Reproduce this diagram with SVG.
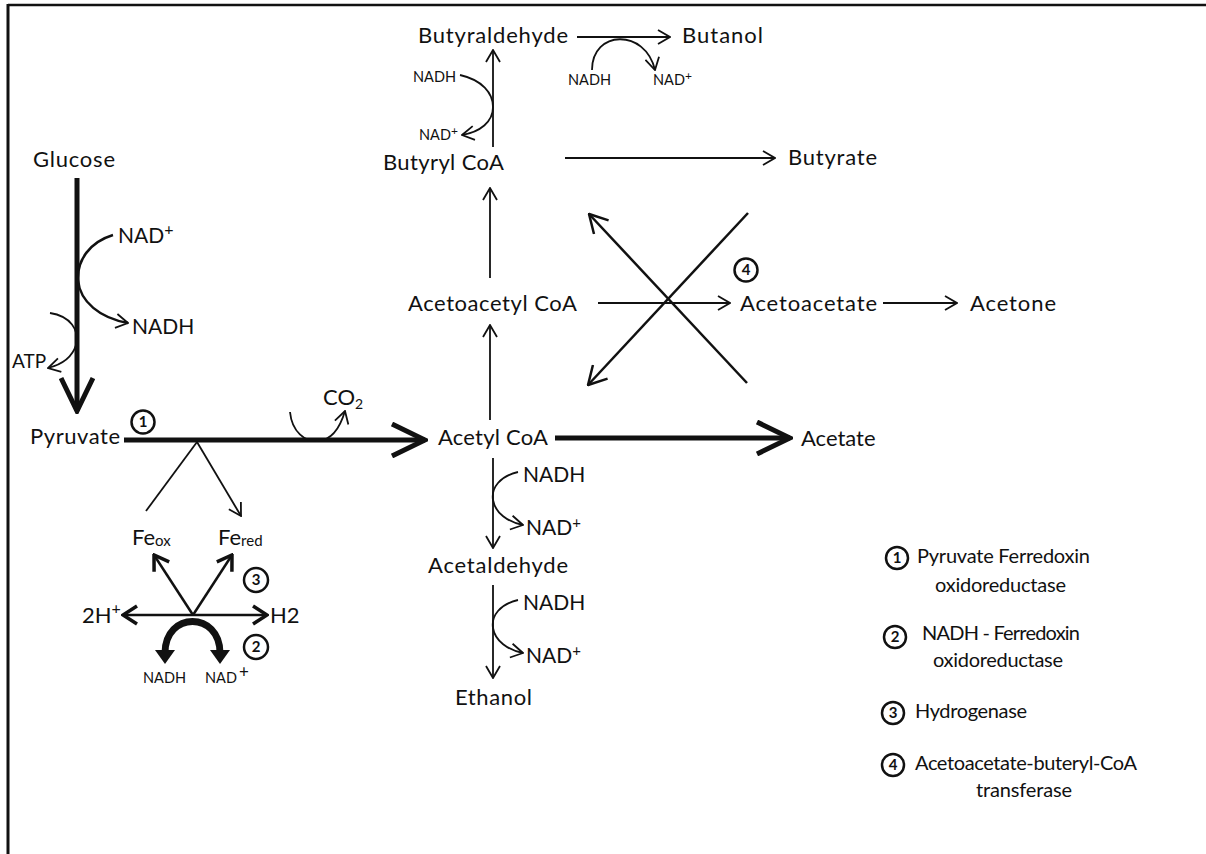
<svg xmlns="http://www.w3.org/2000/svg" width="1206" height="854" viewBox="0 0 1206 854">
<defs>
<style>
text{font-family:Lato,"Liberation Sans",sans-serif;fill:#111}
.lbl{font-size:22px}
.sub{font-size:21px}
.sm{font-size:14.5px}
.lg{font-size:20px}
.num{font-size:15px;font-weight:bold;text-anchor:middle}
.thin{fill:none;stroke:#111;stroke-width:1.8}
.mid{fill:none;stroke:#111;stroke-width:2.5}
.thick{fill:none;stroke:#111;stroke-width:5}
.circ{fill:#fff;stroke:#111;stroke-width:2.5}
</style>
<marker id="open" viewBox="0 0 14 16" refX="13" refY="8" markerWidth="14" markerHeight="16" markerUnits="userSpaceOnUse" orient="auto">
<path d="M1,1 L13,8 L1,15" fill="none" stroke="#111" stroke-width="1.8"/>
</marker>
<marker id="openL" viewBox="0 0 20 22" refX="19" refY="11" markerWidth="20" markerHeight="22" markerUnits="userSpaceOnUse" orient="auto">
<path d="M1,1 L19,11 L1,21" fill="none" stroke="#111" stroke-width="2.5"/>
</marker>
<marker id="bold" viewBox="0 0 38 36" refX="35" refY="18" markerWidth="38" markerHeight="36" markerUnits="userSpaceOnUse" orient="auto">
<path d="M2,2 L35,18 L2,34" fill="none" stroke="#111" stroke-width="5"/>
</marker>
<marker id="med" viewBox="0 0 18 22" refX="16" refY="11" markerWidth="18" markerHeight="22" markerUnits="userSpaceOnUse" orient="auto">
<path d="M2,2 L16,11 L2,20" fill="none" stroke="#111" stroke-width="3.5"/>
</marker>
<marker id="fill" viewBox="0 0 14 20" refX="3" refY="10" markerWidth="14" markerHeight="20" markerUnits="userSpaceOnUse" orient="auto-start-reverse">
<path d="M0,0 L14,10 L0,20 Z" fill="#111"/>
</marker>
</defs>
<rect width="1206" height="854" fill="#fff"/>
<g id="frame">
<line x1="8" y1="5" x2="1206" y2="5" stroke="#111" stroke-width="2.5"/>
<line x1="8" y1="4" x2="8" y2="854" stroke="#111" stroke-width="3"/>
</g>
<g id="connectors">
<path class="thick" d="M77,178 L77,411" marker-end="url(#bold)"/>
<path class="mid" d="M113,235 C90,242 77,260 78,280 C80,302 100,318 128,323" marker-end="url(#open)"/>
<path class="thin" d="M50,313 C70,316 80,330 76,345 C72,358 60,365 48,368" marker-end="url(#open)"/>
<path class="thick" d="M124,440 L425,440" marker-end="url(#bold)"/>
<path class="thin" d="M290,412 C292,432 305,442 318,441 C332,440 340,428 345,411" marker-end="url(#open)"/>
<path class="thin" d="M197,442 L146,511"/>
<path class="thin" d="M197,442 L241,516" marker-end="url(#open)"/>
<path class="mid" stroke-width="3" d="M193,615 L154,555" marker-end="url(#med)"/>
<path class="mid" stroke-width="3" d="M193,615 L232,555" marker-end="url(#med)"/>
<path class="mid" stroke-width="3" d="M193,615 L123,615" marker-end="url(#med)"/>
<path class="mid" stroke-width="3" d="M193,615 L267,615" marker-end="url(#med)"/>
<path fill="none" stroke="#111" stroke-width="7" d="M165,653 C165,611 220,611 220,653" marker-start="url(#fill)" marker-end="url(#fill)"/>
<path class="thick" d="M555,438 L790,438" marker-end="url(#bold)"/>
<path class="thin" d="M493,458 L493,548" marker-end="url(#open)"/>
<path class="thin" d="M518,472 C500,476 491,488 493,500 C495,513 508,522 523,525" marker-end="url(#open)"/>
<path class="thin" d="M493,585 L493,678" marker-end="url(#open)"/>
<path class="thin" d="M518,600 C500,604 491,616 493,628 C495,641 508,650 523,653" marker-end="url(#open)"/>
<path class="thin" d="M490,420 L490,325" marker-end="url(#open)"/>
<path class="thin" d="M490,278 L490,188" marker-end="url(#open)"/>
<path class="thin" d="M493,147 L493,50" marker-end="url(#open)"/>
<path class="thin" d="M460,75 C482,80 493,93 493,107 C493,122 480,132 462,135" marker-end="url(#open)"/>
<path class="thin" d="M577,37 L670,37" marker-end="url(#open)"/>
<path class="thin" d="M592,70 C592,30 645,28 655,70" marker-end="url(#open)"/>
<path class="thin" d="M565,158 L775,158" marker-end="url(#open)"/>
<path class="thin" d="M598,303 L730,303" marker-end="url(#open)"/>
<path class="thin" d="M883,303 L957,303" marker-end="url(#open)"/>
<path class="mid" d="M748,213 L588,385" marker-end="url(#openL)"/>
<path class="mid" d="M747,383 L589,214" marker-end="url(#openL)"/>
</g>
<g id="glucose"><text class="lbl" x="33" y="167" textLength="82">Glucose</text></g>
<g id="nadplus1"><text class="sub" x="118" y="243">NAD<tspan dy="-8" font-size="16">+</tspan></text></g>
<g id="nadh1"><text class="sub" x="132" y="334">NADH</text></g>
<g id="atp"><text x="12" y="368" font-size="19">ATP</text></g>
<g id="pyruvate"><text class="lbl" x="30" y="444" textLength="90">Pyruvate</text></g>
<g id="e1"><circle class="circ" cx="143" cy="422" r="11.5"/><text class="num" x="143" y="427">1</text></g>
<g id="co2"><text class="lbl" x="323" y="405">CO<tspan font-size="14" dy="4">2</tspan></text></g>
<g id="feox"><text class="lbl" x="132" y="545">Fe<tspan font-size="15" dy="1">ox</tspan></text></g>
<g id="fered"><text class="lbl" x="218" y="545">Fe<tspan font-size="15" dy="1">red</tspan></text></g>
<g id="e3"><circle class="circ" cx="256" cy="580" r="12"/><text class="num" x="256" y="585">3</text></g>
<g id="h2plus"><text class="lbl" x="82" y="623">2H<tspan dy="-9" font-size="16">+</tspan></text></g>
<g id="h2"><text class="lbl" x="270" y="623">H2</text></g>
<g id="e2"><circle class="circ" cx="256" cy="647" r="12"/><text class="num" x="256" y="652">2</text></g>
<g id="nadh2"><text class="sm" x="143" y="683">NADH</text></g>
<g id="nadplus2"><text class="sm" x="205" y="683">NAD<tspan dx="2" dy="-5" font-size="17">+</tspan></text></g>
<g id="acetylcoa"><text class="lbl" x="438" y="445" textLength="110">Acetyl CoA</text></g>
<g id="acetate"><text class="lbl" x="801" y="446">Acetate</text></g>
<g id="nadh3"><text class="sub" x="523" y="482">NADH</text></g>
<g id="nadplus3"><text class="sub" x="526" y="535">NAD<tspan dy="-7" font-size="15">+</tspan></text></g>
<g id="acetaldehyde"><text class="lbl" x="428" y="573" textLength="140">Acetaldehyde</text></g>
<g id="nadh4"><text class="sub" x="523" y="610">NADH</text></g>
<g id="nadplus4"><text class="sub" x="526" y="663">NAD<tspan dy="-7" font-size="15">+</tspan></text></g>
<g id="ethanol"><text class="lbl" x="455" y="705" textLength="77">Ethanol</text></g>
<g id="acetoacetylcoa"><text class="lbl" x="408" y="311" textLength="169">Acetoacetyl CoA</text></g>
<g id="butyrylcoa"><text class="lbl" x="383" y="170" textLength="121">Butyryl CoA</text></g>
<g id="butyrate"><text class="lbl" x="788" y="165" textLength="89">Butyrate</text></g>
<g id="butyraldehyde"><text class="lbl" x="418" y="43" textLength="150">Butyraldehyde</text></g>
<g id="butanol"><text class="lbl" x="682" y="43" textLength="81">Butanol</text></g>
<g id="nadh5"><text class="sm" x="568" y="85">NADH</text></g>
<g id="nadplus5"><text class="sm" x="653" y="85">NAD<tspan dy="-5" font-size="12">+</tspan></text></g>
<g id="nadh6"><text class="sm" x="413" y="82">NADH</text></g>
<g id="nadplus6"><text class="sm" x="419" y="140">NAD<tspan dy="-5" font-size="12">+</tspan></text></g>
<g id="acetoacetate"><text class="lbl" x="740" y="311" textLength="137">Acetoacetate</text></g>
<g id="acetone"><text class="lbl" x="970" y="311" textLength="86">Acetone</text></g>
<g id="e4"><circle class="circ" cx="746" cy="270" r="11.5"/><text class="num" x="746" y="275">4</text></g>
<g id="legend">
<circle class="circ" cx="897" cy="558" r="11"/><text class="num" x="897" y="563" font-size="14">1</text>
<text class="lg" x="917" y="563" textLength="173">Pyruvate Ferredoxin</text>
<text class="lg" x="935" y="592" textLength="131">oxidoreductase</text>
<circle class="circ" cx="895" cy="637" r="11"/><text class="num" x="895" y="642" font-size="14">2</text>
<text class="lg" x="922" y="640" textLength="158">NADH - Ferredoxin</text>
<text class="lg" x="933" y="667" textLength="130">oxidoreductase</text>
<circle class="circ" cx="893" cy="713" r="11"/><text class="num" x="893" y="718" font-size="14">3</text>
<text class="lg" x="915" y="718" textLength="112">Hydrogenase</text>
<circle class="circ" cx="893" cy="765" r="11"/><text class="num" x="893" y="770" font-size="14">4</text>
<text class="lg" x="915" y="770" textLength="222">Acetoacetate-buteryl-CoA</text>
<text class="lg" x="976" y="797" textLength="96">transferase</text>
</g>
</svg>
